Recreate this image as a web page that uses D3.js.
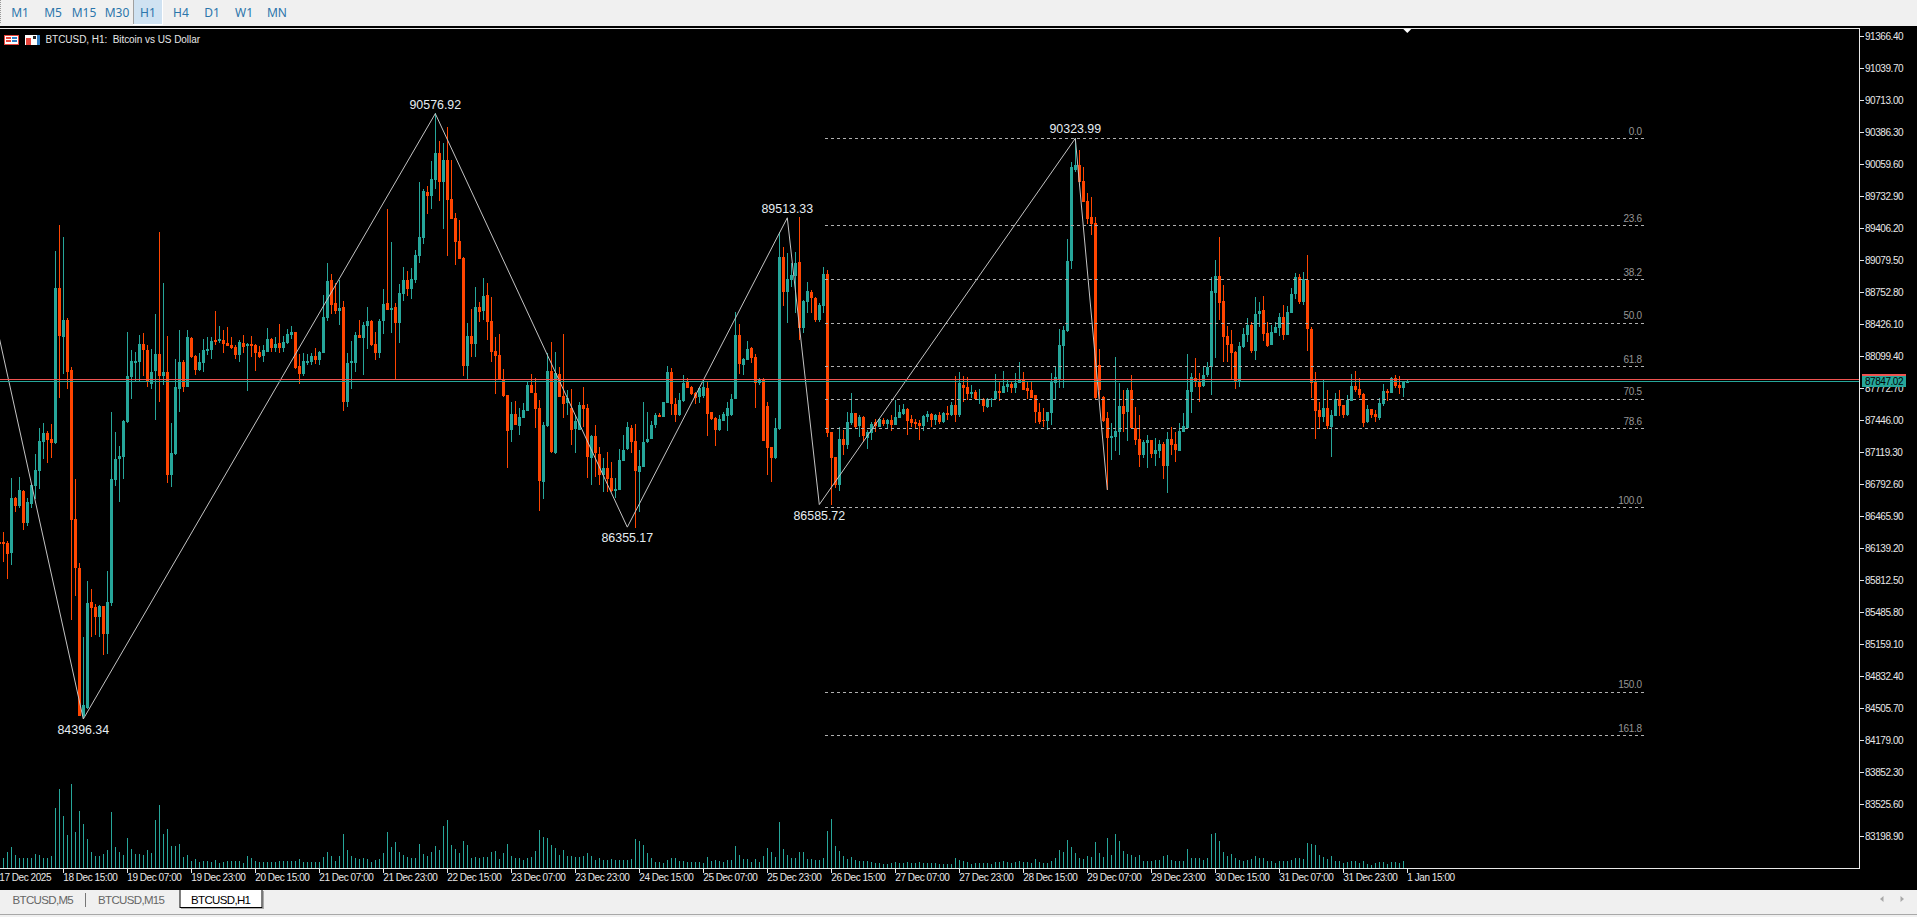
<!DOCTYPE html>
<html><head><meta charset="utf-8">
<script src="https://cdn.jsdelivr.net/npm/d3@7"></script>
<style>
html,body{margin:0;padding:0;background:#f0f0f0;overflow:hidden}
svg{display:block}
text{font-family:"Liberation Sans",Arial,sans-serif}
</style></head><body>
<script>
const timeframes=["M1","M5","M15","M30","H1","H4","D1","W1","MN"];
const tabs=["BTCUSD,M5","BTCUSD,M15","BTCUSD,H1"];
const timeLabels=["17 Dec 2025","18 Dec 15:00","19 Dec 07:00","19 Dec 23:00","20 Dec 15:00","21 Dec 07:00","21 Dec 23:00","22 Dec 15:00","23 Dec 07:00","23 Dec 23:00","24 Dec 15:00","25 Dec 07:00","25 Dec 23:00","26 Dec 15:00","27 Dec 07:00","27 Dec 23:00","28 Dec 15:00","29 Dec 07:00","29 Dec 23:00","30 Dec 15:00","31 Dec 07:00","31 Dec 23:00","1 Jan 15:00"];
const priceTicks=[91366.40,91039.70,90713.00,90386.30,90059.60,89732.90,89406.20,89079.50,88752.80,88426.10,88099.40,87772.70,87446.00,87119.30,86792.60,86465.90,86139.20,85812.50,85485.80,85159.10,84832.40,84505.70,84179.00,83852.30,83525.60,83198.90];
const opens=[86208,86204,86197,86092,86654,86566,86724,86397,86594,86777,
86928,87224,87315,87255,87210,88795,88296,88465,87958,86440,
85933,84422,84510,85592,85540,85441,85547,85266,85582,86840,
87051,87076,87428,87888,88032,88043,88226,88162,87821,87948,
88124,87899,87941,86890,87101,87769,88043,87786,88282,88103,
87958,88036,88155,88162,88264,88254,88264,88233,88215,88194,
88113,88236,88201,88229,88215,88145,88099,88148,88275,88183,
88240,88183,88240,88317,88349,88001,87916,88036,88043,88103,
88060,88138,88489,88879,88647,88563,88602,87631,88032,88032,
88313,88282,88412,88458,88226,88134,88458,88640,88577,88602,
88440,88735,88879,88791,88879,89123,89304,89773,89736,89899,
90178,89879,90103,89705,89511,89277,89103,88000,88307,88225,
88603,88559,88722,88460,88154,88109,87864,87701,87347,87510,
87388,87466,87544,87806,87728,87572,86816,87388,87949,87116,
87919,87694,87619,87568,87354,87347,87602,87568,87065,87286,
87102,86888,86955,86860,86728,86734,87031,87150,87371,87231,
86922,86973,87225,87252,87395,87500,87483,87626,87943,87612,
87500,87643,87840,87789,87728,87687,87694,87772,87527,87473,
87347,87442,87490,87500,87664,88317,88011,88062,88181,88096,
87823,87864,87592,87170,87058,87354,89110,88760,88878,88919,
89059,88388,88657,88756,88699,88470,88613,88936,87323,87068,
86785,87255,87190,87415,87517,87388,87476,87262,87320,87432,
87374,87449,87408,87449,87398,87473,87510,87562,87459,87429,
87415,87388,87476,87510,87449,87500,87425,87521,87500,87602,
87497,87806,87786,87714,87738,87653,87660,87579,87653,87664,
87745,87725,87783,87820,87776,87824,87858,87776,87756,87704,
87534,87449,87439,87524,87830,87858,88205,88358,89073,90002,
90053,89889,89689,89522,89457,88011,87681,87470,87269,87279,
87330,87592,87534,87756,87364,87252,87092,87211,87242,87102,
87133,87204,86983,87259,87204,87136,87330,87371,87739,87878,
87841,87797,87909,87987,88749,88919,88664,88307,88225,88143,
87841,88191,88317,88419,88157,88531,88572,88337,88215,88341,
88385,88497,88317,88545,88732,88906,88657,88879,88378,87837,
87548,87483,87572,87381,87494,87664,87599,87500,87647,87796,
87766,87715,87425,87562,87514,87473,87613,87745,87728,87875,
87806,87779,87830];
const closes=[86186,86183,86081,86654,86566,86735,86397,86608,86784,86935,
87234,87315,87241,87213,88795,88306,88465,87944,86433,85933,
84432,84538,85582,85529,85441,85554,85266,85592,86847,87051,
87083,87438,87895,88053,88053,88226,88159,87832,87941,88124,
87902,87941,86883,87108,87786,88043,87786,88296,88088,87958,
88043,88162,88173,88257,88250,88275,88226,88205,88183,88113,
88250,88194,88226,88205,88131,88095,88162,88275,88183,88229,
88183,88247,88324,88349,87979,87916,88053,88050,88103,88060,
88145,88500,88865,88623,88563,88595,87631,88032,88053,88317,
88282,88422,88458,88211,88134,88458,88633,88577,88588,88440,
88746,88879,88791,88886,89133,89321,89787,89736,89910,90178,
89879,90103,89695,89501,89270,89093,88000,88307,88225,88599,
88552,88718,88450,88143,88103,87864,87694,87340,87510,87398,
87483,87551,87810,87728,87561,86826,87398,87953,87123,87926,
87687,87612,87670,87347,87442,87602,87558,87068,87286,87109,
86888,86955,86847,86728,86745,87041,87143,87374,87225,86928,
86980,87225,87252,87398,87504,87483,87629,87939,87612,87500,
87653,87830,87779,87715,87677,87772,87789,87510,87459,87347,
87456,87510,87568,87660,88317,88017,88069,88171,88079,87823,
87857,87238,87167,87058,87364,89110,88760,88885,88929,89055,
88392,88664,88766,88698,88470,88623,88940,87320,87065,86785,
87255,87194,87425,87517,87381,87476,87286,87323,87408,87388,
87456,87408,87449,87398,87476,87534,87562,87439,87415,87408,
87388,87490,87510,87449,87500,87425,87517,87500,87602,87500,
87830,87776,87711,87738,87660,87664,87592,87664,87664,87745,
87725,87796,87817,87779,87830,87858,87759,87749,87670,87531,
87432,87439,87531,87841,87885,88215,88368,89073,90036,90053,
89883,89678,89501,89450,87677,87756,87443,87269,87286,87337,
87592,87511,87756,87364,87245,87092,87225,87242,87102,87140,
87204,86983,87255,87194,87143,87337,87388,87756,87888,87841,
87790,87905,87987,88766,88919,88647,88300,88215,88137,87847,
88205,88327,88419,88157,88531,88562,88327,88208,88348,88399,
88497,88317,88548,88736,88906,88657,88885,88382,87830,87545,
87483,87572,87391,87497,87664,87596,87500,87653,87796,87756,
87704,87422,87562,87500,87483,87623,87745,87725,87878,87796,
87779,87837,87847];
const highs=[86320,86303,86217,86854,86665,86865,86735,86654,86795,87101,
87368,87417,87333,87410,89175,89438,89319,88486,87986,86847,
85986,85230,85803,85722,85575,85564,85554,85905,87526,87322,
87181,87445,88345,88166,88148,88317,88334,88218,88173,88528,
89368,88848,88306,87417,88071,88366,88060,88373,88296,88113,
88131,88278,88296,88296,88563,88408,88366,88394,88296,88218,
88264,88317,88236,88306,88226,88201,88211,88387,88289,88296,
88429,88306,88377,88405,88349,88124,88131,88124,88131,88183,
88155,88721,89052,88939,88851,88879,88669,88131,88254,88345,
88472,88447,88602,88465,88352,88482,88791,89600,89266,88640,
88834,89006,88974,89002,89182,89875,89807,89838,90093,90580,
90297,90280,90444,90103,89559,89491,89110,88443,88579,88810,
88657,88895,88851,88701,88300,88324,87966,87704,87636,87643,
87568,87619,87840,87919,87874,87653,87432,88130,88242,88147,
87994,88324,87755,87762,87500,87636,87783,87612,87296,87398,
87177,87058,87126,87024,86854,87150,87296,87432,87398,87408,
87143,87629,87534,87442,87517,87517,87629,88004,87977,87670,
87721,87905,87875,87800,87738,87789,87857,87840,87534,87476,
87500,87534,87636,87711,88555,88429,88079,88259,88191,88123,
87875,87874,87636,87177,87466,89372,89219,89157,89048,89168,
89518,88674,88861,88776,88705,88640,89008,88980,87323,87068,
87381,87347,87534,87721,87524,87500,87490,87347,87432,87456,
87456,87466,87459,87500,87653,87602,87613,87575,87500,87456,
87449,87500,87541,87524,87510,87534,87534,87596,87630,87898,
87936,87898,87885,87806,87756,87766,87670,87670,87670,87919,
87841,87950,87864,87841,87926,88038,87943,87841,87851,87704,
87619,87568,87534,87933,87994,88375,88409,89297,90080,90325,
90206,90029,89763,89723,89518,88174,87694,87528,87422,88089,
87824,87756,87773,87909,87579,87500,87245,87296,87245,87262,
87245,87228,87330,87381,87330,87415,87517,88123,87926,88079,
87926,88001,88045,88913,89083,89314,88828,88409,88368,88157,
88249,88385,88487,88453,88702,88651,88715,88446,88419,88453,
88538,88623,88613,88793,88947,88940,88960,89134,88395,87936,
87630,87858,87756,87551,87722,87756,87603,87704,87919,87950,
87875,87722,87602,87562,87551,87670,87817,87762,87892,87909,
87898,87851,87858];
const lows=[86074,86004,85821,85968,86513,86549,86327,86362,86549,86643,
86749,87051,87013,87058,87199,87674,87920,87769,85406,85652,
84432,84404,84499,85230,85258,85237,85048,85062,85547,86777,
86615,86847,87417,87663,87849,87846,87902,87786,87769,87452,
87631,87807,86805,86770,87094,87533,87733,87786,88085,87913,
87948,87937,88113,88071,88218,88236,88131,88201,88176,88071,
88043,88131,87744,88095,87948,88085,88043,88148,88148,88148,
88131,88148,88226,88271,87972,87821,87899,88008,88015,88025,
88015,88131,88458,88535,88535,88422,87543,87586,87762,87944,
88282,87909,88176,88201,88060,88078,88331,88577,88342,87867,
88236,88668,88711,88686,88851,89048,89246,89552,89603,89807,
89685,89399,89123,89501,89032,89093,87898,87864,88096,88089,
88453,88470,88266,88045,87715,87864,87687,86962,87228,87398,
87296,87466,87554,87721,87364,86524,86643,87381,87109,87102,
87680,87466,87500,87194,87116,87347,87381,86858,86785,86870,
86785,86717,86717,86717,86649,86734,87031,87143,87109,86350,
86513,86973,87211,87252,87364,87476,87483,87626,87500,87432,
87490,87636,87772,87705,87612,87619,87677,87289,87449,87184,
87340,87442,87340,87490,87664,87919,87909,88062,88028,87568,
87806,87238,86888,86820,87048,87347,88613,88436,88810,88538,
88266,88341,88538,88538,88453,88453,88538,87279,86581,86752,
86727,87092,87150,87398,87364,87272,87228,87150,87245,87330,
87374,87388,87364,87340,87398,87466,87500,87296,87374,87364,
87245,87340,87432,87374,87398,87408,87415,87449,87490,87432,
87483,87636,87653,87670,87653,87613,87534,87568,87585,87660,
87647,87721,87739,87728,87721,87824,87759,87660,87670,87415,
87408,87374,87347,87398,87653,87773,87773,88351,88991,89985,
89876,89672,89450,89338,87654,87660,87432,86735,87041,87136,
87090,87330,87238,87364,87194,86966,87058,86956,87058,86980,
87058,86847,86708,87092,87024,87136,87330,87364,87517,87790,
87637,87790,87892,87705,88079,88470,88040,88045,87868,87766,
87790,88181,88249,88137,88062,88402,88259,88198,88215,88334,
88307,88266,88317,88538,88685,88633,88623,88157,87671,87255,
87364,87432,87357,87075,87490,87494,87473,87490,87647,87739,
87677,87381,87422,87473,87432,87449,87595,87647,87728,87776,
87715,87687,87830];
const volumes=[250,310,490,640,400,290,300,300,310,430,
400,310,310,370,1800,2380,1570,1000,2530,1090,
1720,1330,880,470,370,370,430,550,1670,630,
470,400,910,580,430,430,400,550,460,1450,
1900,1030,1180,670,670,730,340,400,220,280,
190,200,200,190,250,160,190,220,210,220,
210,160,370,290,220,190,190,170,170,170,
210,220,200,200,220,280,180,170,170,170,
170,340,490,370,220,370,1030,550,370,310,
280,310,280,190,250,280,460,1090,630,790,
490,400,340,310,310,730,420,360,490,670,
550,1270,1450,700,580,460,820,700,310,340,
300,340,330,490,520,280,460,730,370,290,
310,230,290,340,520,1150,940,900,700,610,
400,550,350,370,340,320,370,460,370,250,
310,250,250,280,250,250,250,250,280,880,
820,700,460,310,190,190,160,250,300,310,
220,210,190,190,190,170,160,340,220,250,
200,190,250,250,670,400,280,260,190,280,
190,370,610,490,340,1390,580,400,310,310,
490,490,280,280,250,250,310,1120,1480,670,
520,370,280,340,250,220,220,220,190,160,
160,130,130,160,190,160,160,190,160,160,
190,160,160,160,160,130,130,130,130,310,
250,220,190,130,150,160,160,160,130,190,
170,220,190,160,190,220,190,190,160,280,
190,160,160,220,310,550,490,850,640,460,
310,280,370,340,790,460,340,910,400,1030,
820,520,430,400,340,400,220,220,220,250,
250,370,400,250,220,220,220,580,310,310,
290,250,310,1030,1060,820,490,370,430,310,
250,220,250,280,370,310,310,220,220,160,
220,220,220,250,310,310,280,760,730,700,
400,340,280,370,220,220,160,190,220,220,
160,220,130,100,160,190,170,130,190,190,
160,220,10];
const zigzagBars=[0,21,109,157,197,205,269,277];
const zigzagPrices=[88286,84396.34,90576.92,86355.17,89513.33,86585.72,90323.99,86735];
const zigzagLabelled=[false,true,true,true,true,true,true,false];
const fibLevels=[0,23.6,38.2,50,61.8,70.5,78.6,100,150,161.8];
const fibHigh=90323.99, fibLow=86557, fibStartBar=206.5, fibEndBar=411.25;
const askPrice=87864, bidPrice=87847.02;

const W=1917,H=917, TEAL="#26a69a", RED="#ff4500";
const svg=d3.select("body").append("svg").attr("width",W).attr("height",H);
const x=d3.scaleLinear().domain([0,352]).range([-0.7,1407.3]);
const y=d3.scaleLinear().domain([91366.4,83198.9]).range([36.3,836.3]);
const vol=d3.scaleLinear().domain([0,3000]).range([868,768]);
const fibPrice=l=>fibHigh-(fibHigh-fibLow)*l/100;

// chrome
svg.append("rect").attr("width",W).attr("height",H).attr("fill","#f0f0f0");
svg.append("rect").attr("y",26).attr("width",W).attr("height",864).attr("fill","#000");
svg.append("rect").attr("x",133.5).attr("y",0).attr("width",28.5).attr("height",24).attr("fill","#cfe2f2");
svg.append("rect").attr("x",133).attr("y",0).attr("width",1).attr("height",24).attr("fill","#a0a0a0");
svg.append("rect").attr("x",162).attr("y",0).attr("width",1).attr("height",24).attr("fill","#fff");
svg.append("rect").attr("x",133).attr("y",24).attr("width",30).attr("height",1).attr("fill","#fff");
svg.append("line").attr("x1",0.5).attr("x2",0.5).attr("y1",0).attr("y2",24).attr("stroke","#999").attr("stroke-dasharray","1,1");
const tfCenters=[20,53,84,117,148,181,212,244,277];
svg.append("g").selectAll("text").data(timeframes).join("text")
 .attr("x",(d,i)=>tfCenters[i]).attr("y",16.5).attr("text-anchor","middle")
 .attr("fill","#2b75ab").style("font-family","'Noto Sans',sans-serif").style("font-size","12px").text(d=>d);

// frame
const frame=svg.append("g").attr("fill","#e8e8e8");
frame.append("rect").attr("x",0).attr("y",28).attr("width",1860).attr("height",1);
frame.append("rect").attr("x",1859).attr("y",28).attr("width",1).attr("height",841);
frame.append("rect").attr("x",0).attr("y",868).attr("width",1860).attr("height",1);

const clipId="plot";
svg.append("clipPath").attr("id",clipId).append("rect").attr("x",0).attr("y",29).attr("width",1859).attr("height",839);
const plot=svg.append("g").attr("clip-path",`url(#${clipId})`);

// volumes
plot.append("g").attr("shape-rendering","crispEdges").selectAll("rect").data(volumes).join("rect")
 .attr("x",(d,i)=>Math.floor(x(i))).attr("width",1)
 .attr("y",d=>Math.round(vol(d))).attr("height",d=>868-Math.round(vol(d))).attr("fill",TEAL);

// candles
const idx=d3.range(opens.length);
const col=i=>closes[i]>=opens[i]?TEAL:RED;
const cg=plot.append("g").attr("shape-rendering","crispEdges");
cg.selectAll("rect.w").data(idx).join("rect").attr("class","w")
 .attr("x",i=>Math.floor(x(i))).attr("width",1)
 .attr("y",i=>Math.round(y(highs[i]))).attr("height",i=>Math.max(1,Math.round(y(lows[i]))-Math.round(y(highs[i]))))
 .attr("fill",col);
cg.selectAll("rect.b").data(idx).join("rect").attr("class","b")
 .attr("x",i=>Math.floor(x(i))-1).attr("width",3)
 .attr("y",i=>Math.round(y(Math.max(opens[i],closes[i]))))
 .attr("height",i=>Math.max(1,Math.round(y(Math.min(opens[i],closes[i])))-Math.round(y(Math.max(opens[i],closes[i])))))
 .attr("fill",col);

// fibonacci
const fg=plot.append("g");
fg.selectAll("line").data(fibLevels).join("line")
 .attr("x1",x(fibStartBar)).attr("x2",x(fibEndBar))
 .attr("y1",d=>Math.round(y(fibPrice(d)))+0.5).attr("y2",d=>Math.round(y(fibPrice(d)))+0.5)
 .attr("stroke","#b0b0b0").attr("stroke-dasharray","3,3").attr("shape-rendering","crispEdges");
fg.selectAll("text").data(fibLevels).join("text")
 .attr("x",x(fibEndBar)-2.5).attr("y",d=>y(fibPrice(d))-3.5).attr("text-anchor","end")
 .attr("fill","#969696").style("font-size","10px").style("letter-spacing","-0.3px").text(d=>d3.format(".1f")(d));

// zigzag
const line=d3.line().x(d=>x(d[0])).y(d=>y(d[1]));
plot.append("path").attr("d",line(zigzagBars.map((b,i)=>[b,zigzagPrices[i]])))
 .attr("fill","none").attr("stroke","#c4c4c4").attr("stroke-width",1);
const zz=d3.range(zigzagBars.length).filter(i=>zigzagLabelled[i]);
plot.append("g").selectAll("text").data(zz).join("text")
 .attr("x",i=>x(zigzagBars[i]))
 .attr("y",i=>{const up=(i==0||zigzagPrices[i]>zigzagPrices[i-1]);return y(zigzagPrices[i])+(up?-9.5:10.5)})
 .attr("dy","0.36em").attr("text-anchor","middle").attr("fill","#e6edf2")
 .style("font-size","12.4px").text(i=>zigzagPrices[i].toFixed(2));

// price lines
plot.append("rect").attr("x",0).attr("width",1859).attr("y",Math.floor(y(askPrice))).attr("height",1).attr("fill","#ef5350").attr("shape-rendering","crispEdges");
plot.append("rect").attr("x",0).attr("width",1859).attr("y",Math.floor(y(bidPrice))).attr("height",1).attr("fill",TEAL).attr("shape-rendering","crispEdges");

// axes
const yAxis=d3.axisRight(y).tickValues(priceTicks).tickSize(4).tickPadding(1).offset(0).tickFormat(d3.format(".2f"));
const gy=svg.append("g").attr("transform","translate(1860,0)").call(yAxis);
gy.select(".domain").remove();
gy.selectAll("line").attr("stroke","#e8e8e8").attr("shape-rendering","crispEdges");
gy.selectAll("text").attr("fill","#e8e8e8").style("font-size","10px").style("letter-spacing","-0.45px").style("font-family","'Liberation Sans',sans-serif");

const timeBars=timeLabels.map((d,i)=>i*16);
const xAxis=d3.axisBottom(x).tickValues(timeBars).tickSize(4).tickPadding(0).offset(0).tickFormat((d,i)=>timeLabels[i]);
const gx=svg.append("g").attr("transform","translate(0,869)").call(xAxis);
gx.select(".domain").remove();
gx.selectAll("line").attr("stroke","#e8e8e8").attr("shape-rendering","crispEdges");
gx.selectAll("text").attr("fill","#e8e8e8").attr("text-anchor","start").attr("x",0).attr("y",3).attr("dy","0.9em")
 .style("font-size","10px").style("letter-spacing","-0.45px").style("font-family","'Liberation Sans',sans-serif");

// last price tag
const tag=svg.append("g");
tag.append("rect").attr("x",1862).attr("y",375).attr("width",44).attr("height",12).attr("fill",TEAL);
tag.append("rect").attr("x",1862).attr("y",374).attr("width",44).attr("height",2).attr("fill","#ef5350");
tag.append("text").attr("x",1884).attr("y",385).attr("text-anchor","middle").attr("fill","#000")
 .style("font-size","10px").style("letter-spacing","-0.45px").text(bidPrice.toFixed(2));

// title
const tt=svg.append("g");
tt.append("rect").attr("x",4.5).attr("y",35.5).attr("width",14).attr("height",9).attr("fill","#fff").attr("stroke","#e8453c");
tt.append("rect").attr("x",6).attr("y",37).attr("width",5).attr("height",2).attr("fill","#e8453c");
tt.append("rect").attr("x",6).attr("y",40).attr("width",5).attr("height",2).attr("fill","#e8453c");
tt.append("rect").attr("x",12).attr("y",37).attr("width",5).attr("height",2).attr("fill","#2f7ec4");
tt.append("rect").attr("x",12).attr("y",40).attr("width",5).attr("height",2).attr("fill","#2f7ec4");
tt.append("rect").attr("x",25).attr("y",35).attr("width",15).attr("height",10).attr("fill","#fff");
tt.append("rect").attr("x",26).attr("y",38).attr("width",5).attr("height",7).attr("fill","#e8453c");
tt.append("rect").attr("x",33).attr("y",36).attr("width",3).attr("height",3).attr("fill","#222");
tt.append("rect").attr("x",37).attr("y",35).attr("width",3).attr("height",10).attr("fill","#2f7ec4");
svg.append("text").attr("x",45.5).attr("y",43).attr("fill","#e6e6e6").style("font-size","10px").style("letter-spacing","-0.05px").attr("xml:space","preserve").style("white-space","pre").text("BTCUSD, H1:  Bitcoin vs US Dollar");

// shift marker
svg.append("path").attr("d",d3.line()([[x(352)-4,29],[x(352)+4,29],[x(352),33]])+"Z").attr("fill","#fff");

// tabs
svg.append("rect").attr("x",180).attr("y",889.5).attr("width",82).attr("height",18).attr("fill","#fff").attr("stroke","#000");
svg.append("rect").attr("x",263).attr("y",891).attr("width",1).attr("height",17).attr("fill","#aaa");
svg.append("rect").attr("x",181).attr("y",908).attr("width",83).attr("height",1).attr("fill","#aaa");
svg.append("rect").attr("x",85).attr("y",893).attr("width",1).attr("height",14).attr("fill","#777");
const tabX=[12.5,98,191], tabCol=["#666","#666","#000"];
svg.append("g").selectAll("text").data(tabs).join("text")
 .attr("x",(d,i)=>tabX[i]).attr("y",903.5).attr("fill",(d,i)=>tabCol[i])
 .style("font-size","11.5px").style("letter-spacing","-0.65px").text(d=>d);
svg.append("rect").attr("x",0).attr("y",914).attr("width",W).attr("height",1).attr("fill","#a8a8a8");
svg.append("path").attr("d","M1883.5,896 L1880,899 L1883.5,902 Z").attr("fill","#a8a8a8");
svg.append("path").attr("d","M1900.5,896 L1904,899 L1900.5,902 Z").attr("fill","#a8a8a8");
</script>
</body></html>
